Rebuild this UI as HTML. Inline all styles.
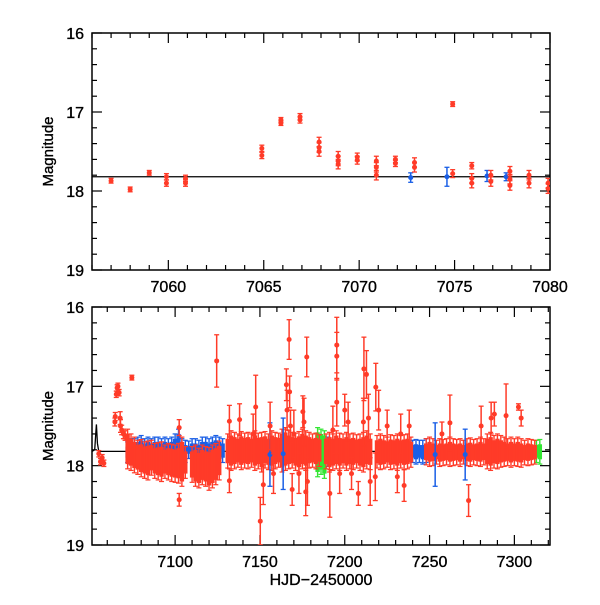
<!DOCTYPE html>
<html><head><meta charset="utf-8"><style>
html,body{margin:0;padding:0;background:#fff;}
svg text{font-family:"Liberation Sans",sans-serif;fill:#000;stroke:#000;stroke-width:0.35;}
</style></head><body>
<svg id="c" width="600" height="600" viewBox="0 0 600 600"></svg>
<script>
// ---- top panel data ----
const topRedX=[7057,7058,7059,7059.9,7059.9,7060.9,7060.9,7064.9,7064.9,7065.9,7065.9,7066.9,7066.9,7067.9,7067.9,7067.9,7068.9,7068.9,7068.9,7069.9,7069.9,7070.9,7070.9,7070.9,7071.9,7071.9,7072.9,7072.9,7074.9,7074.9,7075.9,7075.9,7075.9,7076.9,7076.9,7077.9,7077.9,7077.9,7078.9,7078.9,7079.9,7079.9];
const topRedY=[17.87,17.98,17.77,17.82,17.9,17.84,17.9,17.46,17.55,17.1,17.14,17.06,17.1,17.38,17.45,17.5,17.56,17.62,17.66,17.57,17.61,17.62,17.7,17.8,17.6,17.65,17.64,17.7,16.9,17.78,17.68,17.84,17.9,17.8,17.88,17.75,17.85,17.93,17.8,17.9,17.9,17.97];
const topRedE=[0.03,0.03,0.03,0.04,0.04,0.04,0.04,0.04,0.04,0.03,0.03,0.04,0.04,0.06,0.06,0.06,0.06,0.06,0.06,0.05,0.05,0.06,0.06,0.06,0.04,0.04,0.06,0.06,0.03,0.05,0.04,0.06,0.06,0.06,0.06,0.06,0.06,0.06,0.06,0.06,0.06,0.06];
const topBlueX=[7072.7,7074.6,7076.7,7077.7];
const topBlueY=[17.83,17.82,17.81,17.82];
const topBlueE=[0.06,0.12,0.07,0.05];
const topModelMag=17.82;
// ---- bottom panel: dense clusters (day, bright edge, faint edge) ----
const blueDay=[7072,7074,7076,7078,7080,7082,7084,7086,7088,7090,7092,7094,7096,7098,7100,7102,7104,7106,7108,7110,7112,7114,7116,7118,7120,7122,7124,7126,7128,7186,7188,7190,7240,7242,7244,7246,7248];
const blueHi=[17.76,17.72,17.72,17.7,17.68,17.72,17.7,17.72,17.7,17.7,17.72,17.7,17.72,17.7,17.66,17.6,17.72,17.74,17.75,17.72,17.72,17.74,17.7,17.7,17.72,17.7,17.68,17.7,17.72,17.7,17.72,17.7,17.74,17.73,17.74,17.74,17.72];
const blueLo=[17.9,17.92,17.92,17.9,17.92,17.9,17.92,17.9,17.92,17.9,17.9,17.92,17.9,17.92,17.9,17.9,17.92,17.9,17.85,17.85,17.86,17.85,17.86,17.85,17.86,17.85,17.86,17.85,17.9,17.95,17.96,17.95,17.9,17.92,17.9,17.92,17.9];
const greenDay=[7184,7186,7188,7313,7315];
const greenHi=[17.58,17.6,17.62,17.74,17.73];
const greenLo=[18.08,18.05,18.1,17.9,17.92];
const redDay=[7072,7074,7076,7078,7080,7082,7084,7086,7088,7090,7092,7094,7096,7098,7100,7102,7104,7106,
 7110,7112,7114,7116,7118,7120,7122,7124,7126,
 7131,7133,7135,7137,7139,7141,7143,7145,7147,7149,7151,7153,7155,7157,7159,7161,7163,7165,7167,7169,7171,7173,7175,7177,7179,7181,7183,7185,
 7189,7191,7193,7195,7197,7199,7201,7203,7205,7207,7209,7211,7213,7215,
 7219,7221,7223,7225,7227,7229,7231,7233,7235,7237,7239,
 7248,7250,7252,7254,7256,7258,7260,7262,7264,7266,7268,7270,7272,7274,7276,7278,7280,7282,7284,7286,7288,7290,7292,7294,7296,7298,7300,7302,7304,7306,7308,7310,7312];
const redHi=[17.6,17.66,17.7,17.74,17.73,17.76,17.75,17.74,17.78,17.77,17.76,17.8,17.78,17.79,17.8,17.78,17.7,17.82,
 17.82,17.8,17.84,17.8,17.82,17.83,17.8,17.78,17.75,
 17.66,17.62,17.64,17.66,17.63,17.65,17.64,17.66,17.62,17.65,17.64,17.63,17.66,17.62,17.64,17.65,17.6,17.58,17.62,17.64,17.65,17.63,17.6,17.62,17.64,17.66,17.65,17.67,
 17.66,17.64,17.66,17.62,17.65,17.66,17.64,17.66,17.65,17.67,17.66,17.64,17.62,17.66,
 17.68,17.66,17.68,17.7,17.67,17.68,17.66,17.68,17.67,17.66,17.7,
 17.72,17.7,17.72,17.74,17.72,17.73,17.72,17.7,17.72,17.73,17.72,17.74,17.72,17.71,17.73,17.72,17.7,17.72,17.66,17.64,17.68,17.66,17.68,17.7,17.72,17.7,17.72,17.7,17.72,17.74,17.72,17.73,17.74];
const redLo=[17.98,18.0,18.03,18.05,18.08,18.1,18.12,18.06,18.1,18.12,18.14,18.1,18.12,18.14,18.15,18.16,18.2,18.1,
 18.15,18.2,18.22,18.18,18.2,18.25,18.22,18.18,18.12,
 17.97,18.0,17.98,17.96,17.99,17.97,17.98,17.96,18.0,17.98,18.02,17.97,17.99,18.0,17.98,17.96,18.02,18.0,17.98,17.97,18.0,18.02,17.98,18.0,17.97,17.96,17.98,17.95,
 17.98,18.02,18.0,17.98,18.0,17.97,18.0,17.98,17.99,17.97,18.0,18.02,17.98,17.99,
 17.97,17.99,17.98,17.96,17.99,17.98,18.0,17.97,17.99,17.98,17.96,
 17.93,17.95,17.94,17.92,17.95,17.94,17.93,17.95,17.94,17.93,17.95,17.92,17.94,17.95,17.93,17.94,17.95,17.93,17.98,18.0,17.97,17.98,17.96,17.95,17.94,17.96,17.94,17.95,17.96,17.93,17.94,17.93,17.92];
// ---- bottom panel: individual points ----
const ptX=[7055,7056,7057,7058,7064.5,7064.7,7065.3,7065.8,7066.3,7067,7067.6,7067.8,7068.5,7069.5,7070.5,7074.5,7102.4,7102.4,7124.5,7132,7132,7138,7147.5,7150.2,7152,7155.9,7163.7,7165.6,7167.2,7167.5,7175.3,7177,7177.6,7191.2,7195.3,7195.3,7195.3,7200,7208,7211.3,7212.8,7218,7218.3,7231,7253.3,7257.3,7262,7271,7273,7280.4,7286.3,7288.2,7295.1,7302.4,7304,
 7166,7168,7170,7173,7176,7178,7169,7193,7197,7202,7204,7211,7214,7215,7220,7225,7233,7235,7238,7146,7156,7158];
const ptY=[17.85,17.95,17.9,17.97,17.45,17.38,17.1,17.02,17.0,17.08,17.4,17.5,17.55,17.6,17.62,16.89,17.52,18.43,16.68,17.44,18.19,17.42,17.26,18.7,18.24,17.86,17.85,16.98,16.41,17.07,17.32,18.33,16.63,18.35,16.48,16.62,17.2,17.3,18.35,16.78,16.85,18.14,17.01,18.14,17.86,17.6,17.46,17.86,18.44,17.5,17.4,17.35,17.37,17.26,17.4,
 17.3,17.5,17.6,18.1,17.45,18.2,18.3,17.55,18.1,17.45,18.1,17.45,17.4,18.2,17.3,17.5,17.6,18.25,17.5,17.6,17.5,18.1];
const ptE=[0.04,0.04,0.04,0.04,0.05,0.05,0.04,0.04,0.04,0.04,0.08,0.08,0.06,0.06,0.06,0.03,0.1,0.08,0.33,0.2,0.15,0.2,0.4,0.3,0.25,0.4,0.45,0.2,0.25,0.2,0.2,0.3,0.25,0.3,0.35,0.3,0.3,0.2,0.15,0.4,0.3,0.3,0.3,0.2,0.4,0.15,0.35,0.32,0.2,0.25,0.2,0.15,0.4,0.04,0.1,
 0.25,0.2,0.3,0.25,0.3,0.3,0.2,0.3,0.25,0.25,0.2,0.3,0.3,0.3,0.25,0.2,0.25,0.2,0.2,0.25,0.3,0.25];
const ptC=["red","red","red","red","red","red","red","red","red","red","red","red","red","red","red","red","red","red","red","red","red","red","red","red","red","blue","blue","red","red","red","red","red","red","red","red","red","red","red","red","red","red","red","red","red","blue","red","red","blue","red","red","red","red","red","red","red",
 "red","red","red","red","red","red","red","red","red","red","red","red","red","red","red","red","red","red","red","red","red","red"];
const modelX=[7051,7052.6,7053.2,7053.6,7054.2,7055,7321];
const modelY=[17.82,17.8,17.6,17.48,17.72,17.82,17.82];

const COL={red:"#ff3b28",blue:"#1a5fe6",green:"#33e633"};
const svg=document.getElementById('c');
const NS='http://www.w3.org/2000/svg';
function mk(t,a,p){const e=document.createElementNS(NS,t);for(const k in a)e.setAttribute(k,a[k]);(p||svg).appendChild(e);return e;}

function panel(name,L,T,R,B,x0,x1,major,minor,labels){
  const g=mk('g',{});
  
  
  const sx=v=>L+(v-x0)/(x1-x0)*(R-L);
  const sy=v=>T+(v-16)/3*(B-T);
  const ax=mk('g',{},g);
  
  
  mk('rect',{x:L,y:T,width:R-L,height:B-T,fill:'none',stroke:'#000','stroke-width':1.5},ax);
  for(let v=Math.ceil(x0/minor)*minor;v<=x1;v+=minor){
    const isM=Math.abs(v/major-Math.round(v/major))<1e-6,len=isM?10:5,x=sx(v);
    mk('line',{x1:x,y1:B,x2:x,y2:B-len,stroke:'#000','stroke-width':1.2},ax);
    mk('line',{x1:x,y1:T,x2:x,y2:T+len,stroke:'#000','stroke-width':1.2},ax);
  }
  labels.forEach(v=>{const t=mk('text',{x:sx(v),y:B+22,'font-size':16,'text-anchor':'middle'},ax);t.textContent=v;
    });
  for(let i=0;i<=15;i++){
    const m=16+i*0.2,y=sy(m),len=i%5==0?10:5;
    mk('line',{x1:L,y1:y,x2:L+len,y2:y,stroke:'#000','stroke-width':1.2},ax);
    mk('line',{x1:R,y1:y,x2:R-len,y2:y,stroke:'#000','stroke-width':1.2},ax);
    if(i%5==0){const t=mk('text',{x:L-8,y:y+6,'font-size':16,'text-anchor':'end'},ax);t.textContent=Math.round(m);
      }
  }
  const yt=mk('text',{x:0,y:0,'font-size':15,'text-anchor':'middle',transform:`translate(53,${(T+B)/2}) rotate(-90)`},ax);
  yt.textContent='Magnitude';
  
  
  const clip=mk('clipPath',{id:name+'-clip'},g);
  mk('rect',{x:L,y:T,width:R-L,height:B-T},clip);
  const d=mk('g',{'clip-path':`url(#${name}-clip)`},g);
  return {sx,sy,d};
}
function errPt(p,x,m,e,c){
  const X=p.sx(x),Y=p.sy(m),y1=p.sy(m-e),y2=p.sy(m+e),col=COL[c];
  const g=mk('g',{},p.d);
  
  
  mk('line',{x1:X,y1:y1,x2:X,y2:y2,stroke:col,'stroke-width':1.5},g);
  mk('line',{x1:X-2.5,y1:y1,x2:X+2.5,y2:y1,stroke:col,'stroke-width':1.3},g);
  mk('line',{x1:X-2.5,y1:y2,x2:X+2.5,y2:y2,stroke:col,'stroke-width':1.3},g);
  mk('circle',{cx:X,cy:Y,r:2.5,fill:col},g);
}
function cluster(p,day,hi,lo,c){
  const X=p.sx(day),col=COL[c];
  const g=mk('g',{},p.d);
  
  
  const y1=p.sy(hi),y2=p.sy(lo);
  mk('rect',{x:X-2.2,y:y1,width:4.4,height:y2-y1,fill:col},g);
  mk('line',{x1:X,y1:p.sy(hi-0.06),x2:X,y2:p.sy(lo+0.06),stroke:col,'stroke-width':1.4},g);
  mk('line',{x1:X-2.5,y1:p.sy(lo+0.06),x2:X+2.5,y2:p.sy(lo+0.06),stroke:col,'stroke-width':1.2},g);
  mk('line',{x1:X-2.5,y1:p.sy(hi-0.06),x2:X+2.5,y2:p.sy(hi-0.06),stroke:col,'stroke-width':1.2},g);
}
// top panel
const P1=panel('top-panel',92,33,550,270,7056,7080,5,1,[7060,7065,7070,7075,7080]);
const ml=mk('line',{x1:P1.sx(7056),y1:P1.sy(topModelMag),x2:P1.sx(7080),y2:P1.sy(topModelMag),stroke:'#000','stroke-width':1.3},P1.d);


topBlueX.forEach((x,i)=>errPt(P1,x,topBlueY[i],topBlueE[i],'blue'));
topRedX.forEach((x,i)=>errPt(P1,x,topRedY[i],topRedE[i],'red'));
// bottom panel
const P2=panel('bottom-panel',92,307,550,545,7051,7321,50,10,[7100,7150,7200,7250,7300]);
const ml2=mk('polyline',{points:modelX.map((x,i)=>P2.sx(x)+','+P2.sy(modelY[i])).join(' '),fill:'none',stroke:'#000','stroke-width':1.3},P2.d);


blueDay.forEach((d,i)=>cluster(P2,d,blueHi[i],blueLo[i],'blue'));
greenDay.forEach((d,i)=>cluster(P2,d,greenHi[i],greenLo[i],'green'));
redDay.forEach((d,i)=>cluster(P2,d,redHi[i],redLo[i],'red'));
ptX.forEach((x,i)=>errPt(P2,x,ptY[i],ptE[i],ptC[i]));
const xt=mk('text',{x:321,y:585,'font-size':16,'text-anchor':'middle'});
xt.textContent='HJD\u22122450000';


</script>
</body></html>
